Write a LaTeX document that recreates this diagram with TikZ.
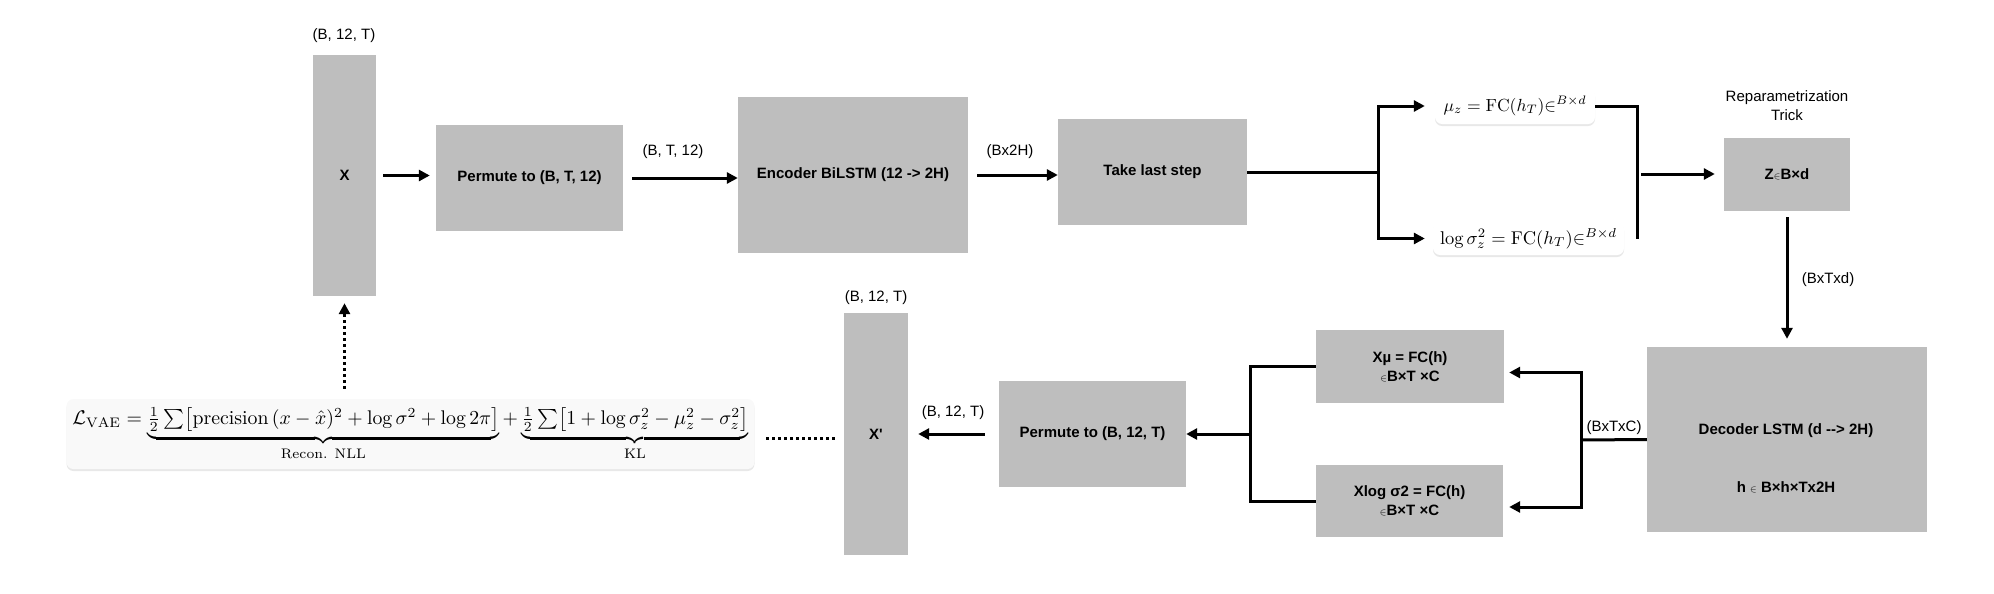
\documentclass[tikz,border=0pt]{standalone}
\usepackage{amsmath}
\usepackage{amssymb}
\usepackage{fontspec}
\usepackage{tikz}
\usetikzlibrary{arrows.meta,shadows}
\newfontfamily\labelFont{Liberation Sans}
\definecolor{blockgray}{RGB}{190,190,190}
\newcommand{\blockFill}[0]{blockgray}
\newcommand{\flowWidth}[0]{3pt}
\newcommand{\smallIn}[0]{{\fontsize{10}{10}\selectfont$\in$}}

\begin{document}
\begin{tikzpicture}[x=1pt, y=-1pt]
  \tikzset{
    block/.style={fill=\blockFill, inner sep=0pt, align=center, font=\labelFont\bfseries\fontsize{15}{19}\selectfont},
    blocktext/.style={inner sep=0pt, align=center, font=\labelFont\bfseries\fontsize{15}{19}\selectfont},
    eqbox/.style={fill=white, rounded corners=7pt, inner sep=0pt, drop shadow={shadow xshift=0pt, shadow yshift=-2pt, opacity=0.18}},
    dims/.style={inner sep=0pt, align=center, font=\labelFont\fontsize{15}{19}\selectfont},
    wire/.style={line width=\flowWidth},
    flow/.style={wire, -{Triangle[length=11pt,width=11pt]}},
    dotflow/.style={wire, dash pattern=on 3pt off 3pt}
  }
  \useasboundingbox (0,0) rectangle (1994,594);
  % encoder row
  \node[block, minimum width=63, minimum height=241] (X-IN) at (344.5,175.5) {X};
  \node[dims] (X-IN-DIM) at (344,36) {(B, 12, T)};
  \node[block, minimum width=187, minimum height=106] (PERM-1) at (529.5,178) {Permute to (B, T, 12)};
  \node[dims] (PERM-1-DIM) at (673,152) {(B, T, 12)};
  \node[block, minimum width=230, minimum height=156] (ENC) at (853,175) {Encoder BiLSTM (12 -{}> 2H)};
  \node[dims] (ENC-DIM) at (1010,152) {(Bx2H)};
  \node[block, minimum width=189, minimum height=106] (TAKE) at (1152.5,172) {Take last step};
  \node[eqbox, minimum width=160, minimum height=36] (MU-Z) at (1515,106)
    {\resizebox{143pt}{!}{$\mu_z = \mathrm{FC}(h_T){\in}^{B\times d}$}};
  \node[eqbox, minimum width=191, minimum height=33] (LOGVAR-Z) at (1528.5,238.5)
    {\resizebox{177pt}{!}{$\log\sigma_z^2 = \mathrm{FC}(h_T){\in}^{B\times d}$}};
  \node[dims] (TRICK) at (1787,106) {Reparametrization\\Trick};
  \node[block, minimum width=126, minimum height=73] (Z) at (1787,174.5) {Z\smallIn B×d};
  \node[dims] (Z-DIM) at (1828,280) {(BxTxd)};
  % decoder row
  \node[block, minimum width=280, minimum height=185] (DEC) at (1787,439.5) {};
  \node[blocktext] (DEC-NAME) at (1786,431) {Decoder LSTM (d -{}-{}> 2H)};
  \node[blocktext] (DEC-SHAPE) at (1786,487) {h \smallIn\ B×h×Tx2H};
  \node[dims] (DEC-DIM) at (1614,428) {(BxTxC)};
  \node[block, minimum width=188, minimum height=73] (X-MU) at (1410,366.5) {Xµ = FC(h)\\\smallIn B×T ×C};
  \node[block, minimum width=187, minimum height=72] (X-LOGVAR) at (1409.5,501) {Xlog σ2 = FC(h)\\\smallIn B×T ×C};
  \node[block, minimum width=187, minimum height=106] (PERM-2) at (1092.5,434) {Permute to (B, 12, T)};
  \node[dims] (PERM-2-DIM) at (953,413) {(B, 12, T)};
  \node[block, minimum width=64, minimum height=242] (X-OUT) at (876,434) {X\textquotesingle};
  \node[dims] (X-OUT-DIM) at (876,298) {(B, 12, T)};
  \node[eqbox, fill=gray!5, minimum width=688, minimum height=70] (LOSS) at (410.5,434)
    {\resizebox{676pt}{!}{$\mathcal{L}_{\mathrm{VAE}} = \underbrace{\tfrac{1}{2}\textstyle\sum\bigl[\mathrm{precision}\,(x-\hat{x})^2 + \log\sigma^2 + \log 2\pi\bigr]}_{\text{Recon. NLL}} + \underbrace{\tfrac{1}{2}\textstyle\sum\bigl[1+\log\sigma_z^2-\mu_z^2-\sigma_z^2\bigr]}_{\text{KL}}$}};
  % connectors
  \coordinate (SPLIT) at (1378,172);
  \coordinate (MERGE) at (1637,174);
  \coordinate (FORK) at (1581,440);
  \coordinate (JOIN) at (1250,434);
  \draw[flow, shorten <=7pt, shorten >=6pt] (X-IN.east) -- (X-IN.east -| PERM-1.west);
  \draw[flow, shorten <=9pt] (PERM-1.east) -- (PERM-1.east -| ENC.west);
  \draw[flow, shorten <=9pt] (ENC.east) -- (ENC.east -| TAKE.west);
  \draw[wire] (TAKE.east) -- (SPLIT);
  \draw[flow, shorten >=10pt] (SPLIT) |- (MU-Z.west);
  \draw[flow, shorten >=8pt] (SPLIT) |- (LOGVAR-Z.west);
  \draw[wire] (MU-Z.east) -| (MERGE) -- (MERGE |- LOGVAR-Z.east);
  \draw[flow, shorten <=4pt, shorten >=9pt] (MERGE) -- (MERGE -| Z.west);
  \draw[flow, shorten <=6pt, shorten >=8pt] (Z.south) -- (Z.south |- DEC.north);
  \draw[wire] (DEC.west) -- (FORK);
  \draw[flow, shorten >=5pt] (FORK) |- ([yshift=-6pt]X-MU.east);
  \draw[flow, shorten >=6pt] (FORK) |- ([yshift=-6pt]X-LOGVAR.east);
  \draw[wire] (X-MU.west) -| (JOIN) |- (X-LOGVAR.west);
  \draw[flow] (JOIN) -- (PERM-2.east);
  \draw[flow, shorten <=14pt, shorten >=10pt] (PERM-2.west) -- (X-OUT.east);
  \draw[dotflow, shorten <=9pt, shorten >=10pt] ([yshift=-4pt]X-OUT.west) -- ([yshift=-4pt]LOSS.east);
  \draw[dotflow, -{Triangle[length=11pt,width=11pt]}, shorten <=10pt, shorten >=7pt] (LOSS.north -| X-IN) -- (X-IN.south);
\end{tikzpicture}
\end{document}
